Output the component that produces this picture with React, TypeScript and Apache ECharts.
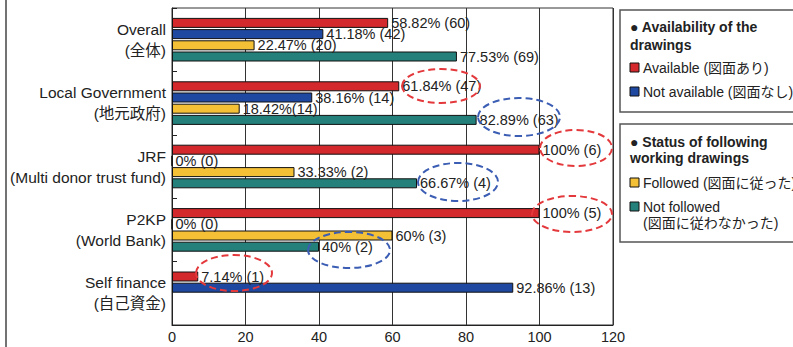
import React, { useEffect, useRef } from "react";
import * as echarts from "echarts";

const categories = [
  "Overall\n(全体)",
  "Local Government\n(地元政府)",
  "JRF\n(Multi donor trust fund)",
  "P2KP\n(World Bank)",
  "Self finance\n(自己資金)",
];
const available = [58.82, 61.84, 100, 100, 7.14];
const availableLabels = ["58.82% (60)", "61.84% (47)", "100% (6)", "100% (5)", "7.14% (1)"];
const notAvailable = [41.18, 38.16, 0, 0, 92.86];
const notAvailableLabels = ["41.18% (42)", "38.16% (14)", "0% (0)", "0% (0)", "92.86% (13)"];
const followed: (number | string)[] = [22.47, 18.42, 33.33, 60, "-"];
const followedLabels = ["22.47% (20)", "18.42%(14)", "33.33% (2)", "60% (3)", ""];
const notFollowed: (number | string)[] = [77.53, 82.89, 66.67, 40, "-"];
const notFollowedLabels = ["77.53% (69)", "82.89% (63)", "66.67% (4)", "40% (2)", ""];
const xTicks = { min: 0, max: 120, interval: 20 };

const FONT = "'Liberation Sans', Arial, 'Noto Sans CJK JP', sans-serif";
const TXT = "#222";

function barSeries(name: string, data: (number | string)[], labels: string[], color: string) {
  return {
    name,
    type: "bar",
    data,
    barWidth: 10,
    barGap: "12%",
    itemStyle: { color, borderColor: "#111", borderWidth: 1 },
    label: {
      show: true,
      position: "right",
      distance: 3,
      fontSize: 14.5,
      fontFamily: FONT,
      color: TXT,
      formatter: (p: any) => labels[p.dataIndex],
    },
  };
}

const RED_D = "#e4393c";
const BLUE_D = "#3b5db3";

function ellipse(cx: number, cy: number, rx: number, ry: number, stroke: string) {
  return {
    type: "ellipse",
    shape: { cx, cy, rx, ry },
    style: { fill: "none", stroke, lineWidth: 2, lineDash: [7, 4] },
    z: 100,
  };
}

function legendItem(y: number, color: string, text: string) {
  return [
    {
      type: "rect",
      shape: { x: 630, y: y - 5, width: 9, height: 9 },
      style: { fill: color, stroke: "#111", lineWidth: 1 },
    },
    {
      type: "text",
      x: 643,
      y,
      style: { text, font: `14px ${FONT}`, fill: TXT, verticalAlign: "middle" },
    },
  ];
}

export default function App() {
  const ref = useRef<HTMLDivElement>(null);
  useEffect(() => {
    if (!ref.current) return;
    const chart = echarts.init(ref.current, null, { renderer: "svg" });
    chart.setOption({
      animation: false,
      backgroundColor: "#fff",
      textStyle: { fontFamily: FONT },
      grid: {
        left: 172,
        right: 180,
        top: 8,
        bottom: 22,
        show: true,
        borderColor: "#333",
        borderWidth: 1,
        backgroundColor: "transparent",
      },
      xAxis: {
        type: "value",
        min: xTicks.min,
        max: xTicks.max,
        interval: xTicks.interval,
        axisLine: { show: true, lineStyle: { color: "#222" } },
        axisTick: { show: false },
        splitLine: { show: true, lineStyle: { color: "#333", width: 1 } },
        axisLabel: { fontSize: 14.5, color: TXT, margin: 5, fontFamily: FONT },
      },
      yAxis: {
        type: "category",
        data: categories,
        inverse: true,
        axisLine: { show: true, lineStyle: { color: "#222" } },
        axisTick: { show: true, inside: true, length: 5, lineStyle: { color: "#222" } },
        axisLabel: {
          fontSize: 15.5,
          lineHeight: 21,
          color: TXT,
          margin: 6,
          align: "right",
          fontFamily: FONT,
        },
      },
      series: [
        barSeries("Available (図面あり)", available, availableLabels, "#d3292c"),
        barSeries("Not available (図面なし)", notAvailable, notAvailableLabels, "#1f48a0"),
        barSeries("Followed (図面に従った)", followed, followedLabels, "#f4c035"),
        barSeries("Not followed (図面に従わなかった)", notFollowed, notFollowedLabels, "#23807a"),
      ],
      graphic: [
        {
          type: "line",
          shape: { x1: 6, y1: 0, x2: 6, y2: 347 },
          style: { stroke: "#444", lineWidth: 1.5 },
        },
        {
          type: "rect",
          shape: { x: 620, y: 10, width: 190, height: 102 },
          style: { fill: "#fff", stroke: "#555", lineWidth: 1.5 },
        },
        {
          type: "text",
          x: 630,
          y: 27,
          style: { text: "● Availability of the", font: `bold 14px ${FONT}`, fill: TXT, verticalAlign: "middle" },
        },
        {
          type: "text",
          x: 630,
          y: 45,
          style: { text: "drawings", font: `bold 14px ${FONT}`, fill: TXT, verticalAlign: "middle" },
        },
        ...legendItem(68, "#d3292c", "Available (図面あり)"),
        ...legendItem(92, "#1f48a0", "Not available (図面なし)"),
        {
          type: "rect",
          shape: { x: 620, y: 124, width: 190, height: 118 },
          style: { fill: "#fff", stroke: "#555", lineWidth: 1.5 },
        },
        {
          type: "text",
          x: 630,
          y: 142,
          style: { text: "● Status of following", font: `bold 14px ${FONT}`, fill: TXT, verticalAlign: "middle" },
        },
        {
          type: "text",
          x: 630,
          y: 158,
          style: { text: "working drawings", font: `bold 14px ${FONT}`, fill: TXT, verticalAlign: "middle" },
        },
        ...legendItem(183, "#f4c035", "Followed (図面に従った)"),
        ...legendItem(207, "#23807a", "Not followed"),
        {
          type: "text",
          x: 643,
          y: 223,
          style: { text: "(図面に従わなかった)", font: `14px ${FONT}`, fill: TXT, verticalAlign: "middle" },
        },
        ellipse(441, 86, 39, 17, RED_D),
        ellipse(519, 117, 41, 19, BLUE_D),
        ellipse(576, 148, 36, 18, RED_D),
        ellipse(458, 182, 40, 19, BLUE_D),
        ellipse(572, 214, 40, 18, RED_D),
        ellipse(349, 250, 41, 18, BLUE_D),
        ellipse(234, 273, 38, 18, RED_D),
      ],
    });
    return () => chart.dispose();
  }, []);
  return (
    <div
      ref={ref}
      style={{ position: "fixed", left: 0, top: 0, width: 793, height: 347, background: "#fff" }}
    />
  );
}
